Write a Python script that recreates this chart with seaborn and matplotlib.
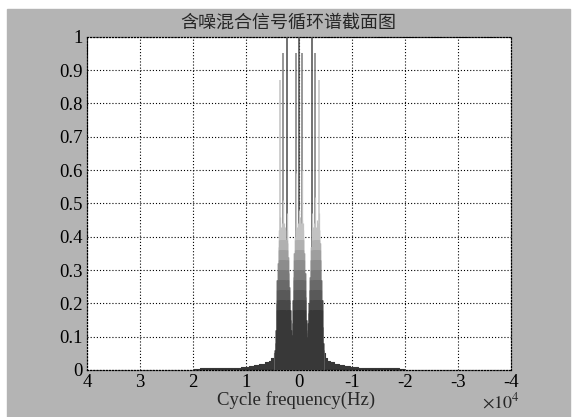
import numpy as np
import matplotlib
matplotlib.use("Agg")
import matplotlib.pyplot as plt
from matplotlib.patches import Rectangle
import seaborn as sns
import pandas as pd

# ---- data (cycle frequency in Hz) ----
floor_freq = [-20000, -19500, -18000, -16000, -14000, -12000, -10000, -9000, -8000,
              -7000, -6000, -5500, -5000, -4600, 4600, 5000, 5500, 6000, 7000,
              8000, 9000, 10000, 12000, 14000, 16000, 18000, 19500, 20000]
floor_level = [0.0, 0.004, 0.005, 0.005, 0.006, 0.007, 0.009, 0.011, 0.014,
               0.018, 0.023, 0.028, 0.036, 0.05, 0.05, 0.036, 0.028, 0.023, 0.018,
               0.014, 0.011, 0.009, 0.007, 0.006, 0.005, 0.005, 0.004, 0.0]

lobe_freq = list(range(-4500, 4501, 100))
lobe_level = [0.06, 0.08, 0.13, 0.21, 0.27, 0.33, 0.38, 0.42, 0.47, 0.40,
              0.44, 0.39, 0.45, 0.41, 0.43, 0.52, 0.42, 0.44, 0.39, 0.43,
              0.38, 0.47, 0.37, 0.33, 0.28, 0.24, 0.20, 0.17, 0.14, 0.12,
              0.10, 0.095, 0.11, 0.15, 0.22, 0.29, 0.35, 0.40, 0.44, 0.60,
              0.45, 0.42, 0.44, 0.41, 0.46, 0.48, 0.45, 0.42, 0.44, 0.41,
              0.43, 0.59, 0.44, 0.40, 0.35, 0.28, 0.21, 0.14, 0.105, 0.095,
              0.10, 0.12, 0.15, 0.18, 0.21, 0.25, 0.29, 0.34, 0.38, 0.47,
              0.39, 0.43, 0.40, 0.44, 0.41, 0.51, 0.42, 0.40, 0.44, 0.39,
              0.43, 0.40, 0.46, 0.42, 0.37, 0.32, 0.27, 0.20, 0.12, 0.08, 0.06]

peak_freq = [-3700, -3000, -2400, -600, 0, 600, 2400, 3000, 3700]
peak_level = [0.87, 0.95, 1.0, 0.95, 1.0, 0.95, 1.0, 0.95, 0.87]

x_ticks = [-40000, -30000, -20000, -10000, 0, 10000, 20000, 30000, 40000]
x_labels = ["-4", "-3", "-2", "-1", "0", "1", "2", "3", "4"]
y_ticks = [0, 0.1, 0.2, 0.3, 0.4, 0.5, 0.6, 0.7, 0.8, 0.9, 1.0]
y_labels = ["0", "0.1", "0.2", "0.3", "0.4", "0.5", "0.6", "0.7", "0.8", "0.9", "1"]

title = "含噪混合信号循环谱截面图"
xlabel = "Cycle frequency(Hz)"

# ---- style ----
sns.set_style("white")
plt.rcParams["font.family"] = ["Liberation Serif", "DejaVu Serif"]
plt.rcParams["mathtext.fontset"] = "stix"

dark = "#383838"
mid = "#7a7a7a"
light = "#c2c2c2"
peak_tone = [light, mid, "#4a4a4a", mid, "#4a4a4a", mid, "#4a4a4a", mid, light]

fig = plt.figure(figsize=(5.72, 4.17), dpi=100)
fig.patch.set_facecolor("white")
fig.patches.append(Rectangle((7 / 572, 0), 563 / 572, 408 / 417,
                             transform=fig.transFigure, color="#b4b4b4", zorder=-10))

ax = fig.add_axes([87 / 572, 1 - 370 / 417, (511.5 - 87) / 572, (370 - 36.7) / 417])
ax.set_facecolor("white")

# noise floor
floor_df = pd.DataFrame({"f": floor_freq, "v": floor_level})
ax.fill_between(floor_df["f"], 0, floor_df["v"], color=dark, lw=0, step="mid", zorder=2)
sns.lineplot(data=floor_df, x="f", y="v", ax=ax, color=dark, lw=0.8,
             drawstyle="steps-mid", zorder=2)

# tall spectral lines
ax.vlines(peak_freq, 0, peak_level, colors=peak_tone, lw=1.1, zorder=3)

# dense lobes, shaded by height (gray colormap look, light on top, dark at base)
lf = np.array(lobe_freq)
lv = np.array(lobe_level)
ax.vlines(lf, 0, lv, color=light, lw=0.9, zorder=4)
cuts = np.linspace(0.42, 0.18, 9)
shades = sns.blend_palette([light, mid, dark], len(cuts))
for k, (c, col) in enumerate(zip(cuts, shades)):
    ax.vlines(lf, 0, np.minimum(lv, c), color=col, lw=0.9, zorder=5 + k)

ax.set_xlim(40000, -40000)
ax.set_ylim(0, 1)
ax.set_xticks(x_ticks, x_labels)
ax.set_yticks(y_ticks, y_labels)
ax.set_xlabel("")
ax.set_ylabel("")
ax.tick_params(direction="in", length=4, width=0.8, colors="black",
               labelsize=13.5, pad=3)
ax.grid(True, color="black", ls=(0, (1, 1.8)), lw=0.8)
ax.set_axisbelow(True)
for s in ax.spines.values():
    s.set_linestyle((0, (1, 1.5)))
    s.set_linewidth(0.9)
    s.set_color("black")

fig.text(288 / 572, 1 - 23 / 417, title, ha="center", va="center", fontsize=13,
         family=["Noto Sans CJK SC", "DejaVu Sans"])
fig.text(296 / 572, 1 - 400 / 417, xlabel, ha="center", va="center", fontsize=13.5)
fig.text(501 / 572, 1 - 402 / 417, r"$\times10^{4}$", ha="center", va="center", fontsize=13)

fig.savefig("out.png", dpi=100)
